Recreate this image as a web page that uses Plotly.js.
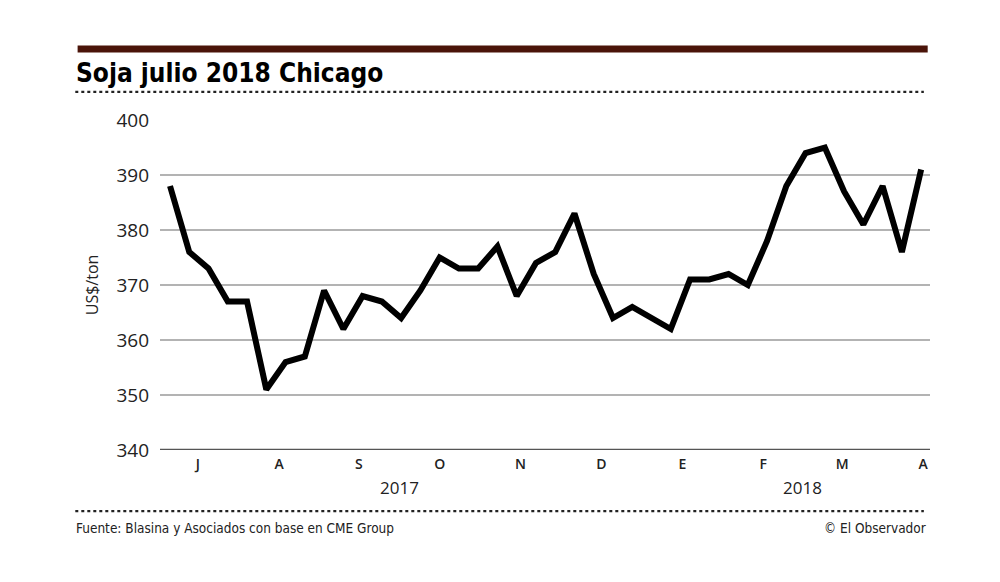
<!DOCTYPE html>
<html>
<head>
<meta charset="utf-8">
<script src="https://cdn.plot.ly/plotly-3.0.1.min.js"></script>
<style>
html,body{margin:0;padding:0;background:#fff;}
#chart{width:1000px;height:582px;}
</style>
</head>
<body>
<div id="chart"></div>
<script>
// Weekly prices, soja julio 2018 Chicago (US$/ton)
const weeks = Array.from({length: 40}, (_, i) => i);
const prices = [388, 376, 373, 367, 367, 351, 356, 357, 369, 362,
                368, 367, 364, 369, 375, 373, 373, 377, 368, 374,
                376, 383, 372, 364, 366, 364, 362, 371, 371, 372,
                370, 378, 388, 394, 395, 387, 381, 388, 376, 391];
const monthLabels = ["J", "A", "S", "O", "N", "D", "E", "F", "M", "A"];
const monthPositions = [1.45, 5.66, 9.8, 14.0, 18.2, 22.4, 26.6, 30.8, 34.9, 39.1];
const yearLabels = ["2017", "2018"];
const yearPositions = [11.9, 32.85];
const yTicks = [340, 350, 360, 370, 380, 390, 400];

const titleText = "Soja julio 2018 Chicago";
const sourceText = "Fuente: Blasina y Asociados con base en CME Group";
const creditText = "© El Observador";
const yTitleText = "US$/ton";

const narrow = "'Liberation Sans Narrow', 'DejaVu Sans Condensed', 'Roboto Condensed', sans-serif";
const sans = "'Open Sans', 'Noto Sans', sans-serif";

const trace = {
  x: weeks, y: prices, type: 'scatter', mode: 'lines',
  line: {color: '#000000', width: 6, shape: 'linear'},
  hoverinfo: 'skip'
};

const annotations = [
  {xref: 'paper', yref: 'paper', x: -0.112, y: 1.142, xanchor: 'left', yanchor: 'middle',
   text: titleText, showarrow: false,
   font: {family: narrow, size: 26, color: '#000', weight: 'bold'}},
  {xref: 'paper', yref: 'paper', x: -0.088, y: 0.5, xanchor: 'center', yanchor: 'middle',
   text: yTitleText, textangle: -90, showarrow: false,
   font: {family: sans, size: 16, color: '#222'}},
  {xref: 'paper', yref: 'paper', x: -0.112, y: -0.236, xanchor: 'left', yanchor: 'middle',
   text: sourceText, showarrow: false,
   font: {family: narrow, size: 13.5, color: '#222'}},
  {xref: 'paper', yref: 'paper', x: 0.997, y: -0.236, xanchor: 'right', yanchor: 'middle',
   text: creditText, showarrow: false,
   font: {family: narrow, size: 13.5, color: '#222'}}
];
yearLabels.forEach((t, i) => annotations.push({
  xref: 'x', yref: 'paper', x: yearPositions[i], y: -0.115, xanchor: 'center', yanchor: 'middle',
  text: t, showarrow: false, font: {family: sans, size: 17, color: '#222'}
}));

const shapes = [
  {type: 'line', xref: 'paper', yref: 'paper', x0: -0.107, x1: 0.997, y0: 1.215, y1: 1.215,
   line: {color: '#4a1409', width: 7}},
  {type: 'line', xref: 'paper', yref: 'paper', x0: -0.11, x1: 0.992, y0: 1.085, y1: 1.085,
   line: {color: '#222', width: 2.2, dash: 'dot'}},
  {type: 'line', xref: 'paper', yref: 'paper', x0: -0.11, x1: 0.992, y0: -0.185, y1: -0.185,
   line: {color: '#222', width: 2.2, dash: 'dot'}},
  {type: 'line', xref: 'paper', yref: 'y', x0: 0, x1: 1, y0: 340, y1: 340,
   line: {color: '#555', width: 2.5}}
];

const layout = {
  width: 1000, height: 582,
  margin: {l: 160, r: 70, t: 120, b: 132},
  paper_bgcolor: '#fff', plot_bgcolor: '#fff',
  showlegend: false,
  xaxis: {
    range: [-0.52, 39.46], tickmode: 'array', tickvals: monthPositions, ticktext: monthLabels,
    showgrid: false, zeroline: false, showline: false, ticks: '',
    tickfont: {family: sans, size: 14, color: '#222', weight: 600},
    ticklabelstandoff: 4, fixedrange: true
  },
  yaxis: {
    range: [340, 400], tickmode: 'array', tickvals: yTicks,
    showgrid: true, gridcolor: '#b3b3b3', gridwidth: 1.6, zeroline: false, showline: false,
    ticks: '', tickfont: {family: sans, size: 19, color: '#222'},
    ticklabelstandoff: 10, fixedrange: true
  },
  annotations: annotations,
  shapes: shapes
};

Plotly.newPlot('chart', [trace], layout, {staticPlot: true, displayModeBar: false});
</script>
</body>
</html>
